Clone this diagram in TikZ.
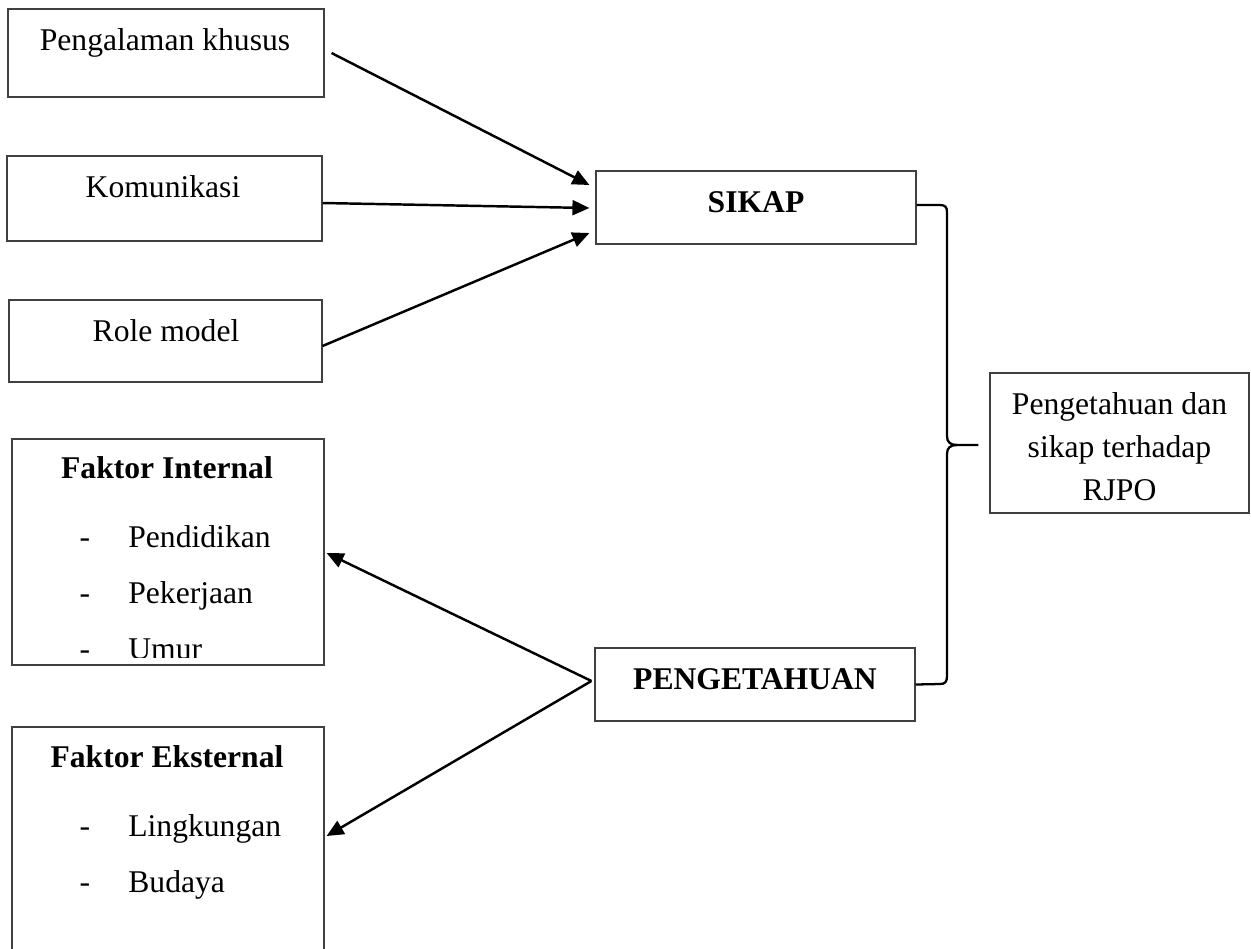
\documentclass[tikz,border=0pt]{standalone}
\usepackage{fontspec}
\setmainfont{Liberation Serif}
\usetikzlibrary{arrows.meta,calc}

\begin{document}
\begin{tikzpicture}
    [
        x=0.02cm, y=-0.02cm,
        box/.style={draw=black!75, line width=0.7pt, rectangle, inner sep=0pt},
        lbl/.style={font=\fontsize{18}{24}\selectfont, inner sep=0pt, anchor=base},
        head/.style={lbl, font=\fontsize{18}{24}\selectfont\bfseries},
        link/.style={-{Triangle[length=3.4mm,width=3mm]}, line width=1.4pt},
        brace/.style={line width=1.3pt},
    ]

    \useasboundingbox (0,0) rectangle (1251,948);

    % left column
    \node (pk)  at (166,53)    [box, minimum width=6.32cm, minimum height=1.76cm] {};
    \node (kom) at (164.5,198.5) [box, minimum width=6.30cm, minimum height=1.70cm] {};
    \node (rm)  at (165.5,341) [box, minimum width=6.26cm, minimum height=1.64cm] {};
    \node (fi)  at (168,552)   [box, minimum width=6.24cm, minimum height=4.52cm] {};
    \node (fe)  at (168,858.5) [box, minimum width=6.24cm, minimum height=5.26cm] {};

    \node (pkt)  at (165,50)  [lbl] {Pengalaman khusus};
    \node (komt) at (163,197) [lbl] {Komunikasi};
    \node (rmt)  at (166,341) [lbl] {Role model};

    \node (fit) at (167,478) [head] {Faktor Internal};
    \node (fd1) at (85,547)  [lbl] {-};
    \node (fi1) at (128,547) [lbl, anchor=base west] {Pendidikan};
    \node (fd2) at (85,603)  [lbl] {-};
    \node (fi2) at (128,603) [lbl, anchor=base west] {Pekerjaan};
    \begin{scope}
        \clip (fi.north west) rectangle ($(fi.south east)+(0,-8)$);
        \node (fd3) at (85,659)  [lbl] {-};
        \node (fi3) at (128,659) [lbl, anchor=base west] {Umur};
    \end{scope}

    \node (fet) at (167,767) [head] {Faktor Eksternal};
    \node (fd4) at (85,836)  [lbl] {-};
    \node (fe1) at (128,836) [lbl, anchor=base west] {Lingkungan};
    \node (fd5) at (85,892)  [lbl] {-};
    \node (fe2) at (128,892) [lbl, anchor=base west] {Budaya};

    % middle column
    \node (sikap) at (756,207.5) [box, minimum width=6.40cm, minimum height=1.46cm] {};
    \node (peng)  at (755,684.5) [box, minimum width=6.40cm, minimum height=1.46cm] {};
    \node (sikapt) at ($(sikap.center)+(0,4.5)$) [head] {SIKAP};
    \node (pengt)  at ($(peng.center)+(0,4.5)$)  [head] {PENGETAHUAN};

    % right
    \node (rjpo) at (1119.5,443) [box, minimum width=5.18cm, minimum height=2.80cm] {};
    \node (rjpot) at ($(rjpo.center)+(0,4)$) [align=center, inner sep=0pt,
        font=\fontsize{18}{24.5}\selectfont]
        {Pengetahuan dan\\sikap terhadap\\RJPO};

    \path [link]
    ($(pk.east)+(7,0)$)    edge ($(sikap.west)+(-6,-22.5)$)
    ($(kom.east)+(0,4.5)$) edge ($(sikap.west)+(-6,0.5)$)
    ($(rm.east)+(0,5)$)    edge ($(sikap.west)+(-6,25.5)$)
    ($(peng.west)+(-3,-3.5)$) edge ($(fi.east)+(2,1)$)
    ($(peng.west)+(-3,-3.5)$) edge ($(fe.east)+(2,-22.5)$);

    % brace
    \coordinate (tip) at ($(rjpo.west)+(-11,2)$);
    \draw [brace] ($(sikap.east)+(0,-2.5)$) -- (940,205)
        .. controls (945,205) and (947,207) .. (947,212) -- (947,436)
        .. controls (947,442) and (950,445) .. (957,445) -- (tip);
    \draw [brace] (957,445)
        .. controls (950,445) and (947,448) .. (947,454) -- (947,676)
        .. controls (947,682) and (945,684) .. (940,684) -- (peng.east);

\end{tikzpicture}
\end{document}
